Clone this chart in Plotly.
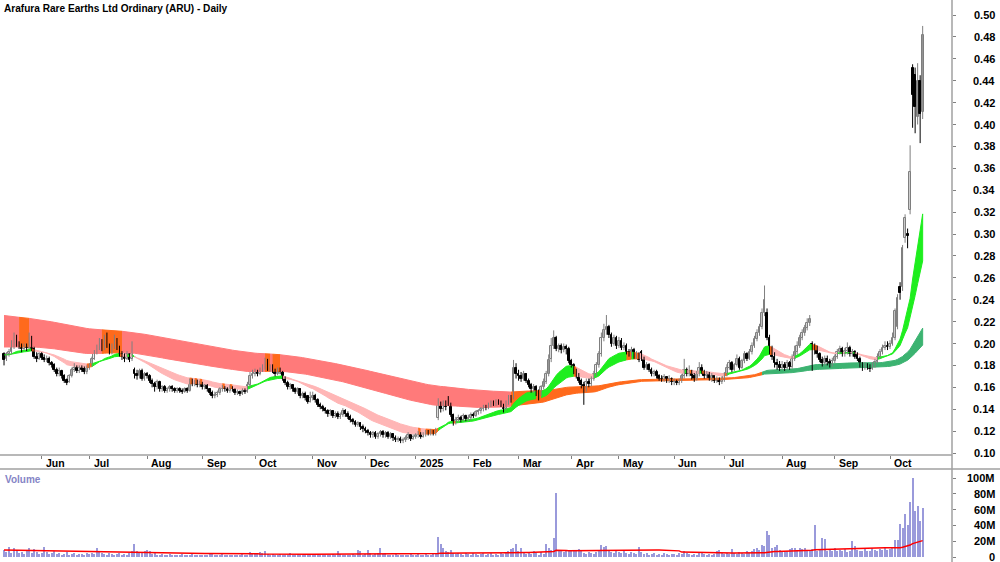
import numpy as np
import pandas as pd
import plotly.graph_objects as go

TITLE = "Arafura Rare Earths Ltd Ordinary (ARU) - Daily"
START, END = "2024-05-13", "2025-10-20"
HOLIDAYS = ["2024-06-10", "2024-12-25", "2024-12-26", "2025-01-01", "2025-01-27",
            "2025-04-18", "2025-04-21", "2025-04-25", "2025-06-09"]

# ---------------- daily OHLC, one line per month ----------------
opens = [
    0.190, 0.186, 0.190, 0.192, 0.197, 0.205, 0.200, 0.197, 0.195, 0.198, 0.196, 0.205, 0.195, 0.188, 0.186,
    0.190, 0.187, 0.185, 0.186, 0.182, 0.180, 0.176, 0.172, 0.175, 0.170, 0.167, 0.165, 0.170, 0.176, 0.178, 0.175, 0.178, 0.177, 0.174,
    0.178, 0.180, 0.186, 0.192, 0.196, 0.200, 0.195, 0.202, 0.198, 0.192, 0.197, 0.203, 0.196, 0.190, 0.188, 0.186, 0.190, 0.186, 0.176, 0.172, 0.170, 0.175, 0.168,
    0.172, 0.170, 0.166, 0.163, 0.160, 0.165, 0.158, 0.160, 0.157, 0.158, 0.160, 0.158, 0.157, 0.158, 0.157, 0.156, 0.158, 0.157, 0.165, 0.163, 0.165, 0.162,
    0.164, 0.160, 0.162, 0.158, 0.155, 0.152, 0.153, 0.155, 0.158, 0.160, 0.158, 0.157, 0.160, 0.158, 0.155, 0.156, 0.154, 0.157, 0.156, 0.162, 0.170,
    0.172, 0.174, 0.172, 0.176, 0.178, 0.185, 0.176, 0.179, 0.175, 0.172, 0.176, 0.174, 0.168, 0.164, 0.160, 0.162, 0.158, 0.156, 0.158, 0.152, 0.154, 0.152, 0.147,
    0.150, 0.152, 0.148, 0.144, 0.142, 0.140, 0.138, 0.136, 0.138, 0.134, 0.136, 0.133, 0.135, 0.138, 0.136, 0.133, 0.130, 0.128, 0.126, 0.127, 0.124,
    0.122, 0.120, 0.118, 0.116, 0.118, 0.115, 0.117, 0.119, 0.116, 0.118, 0.115, 0.117, 0.114, 0.112, 0.113, 0.111, 0.112, 0.114, 0.116, 0.113,
    0.115, 0.116, 0.118, 0.115, 0.117, 0.119, 0.118, 0.120, 0.118, 0.132, 0.144, 0.140, 0.145, 0.150, 0.145, 0.135, 0.128, 0.130, 0.132, 0.130, 0.134,
    0.131, 0.132, 0.135, 0.134, 0.137, 0.138, 0.140, 0.142, 0.141, 0.144, 0.146, 0.145, 0.147, 0.146, 0.143, 0.140, 0.146, 0.150, 0.150, 0.178,
    0.172, 0.170, 0.168, 0.172, 0.166, 0.162, 0.158, 0.160, 0.156, 0.154, 0.160, 0.165, 0.172, 0.186, 0.198, 0.205, 0.195, 0.198, 0.194, 0.197, 0.195,
    0.184, 0.180, 0.174, 0.170, 0.166, 0.162, 0.158, 0.165, 0.163, 0.168, 0.172, 0.180, 0.190, 0.205, 0.212, 0.215, 0.208, 0.200, 0.205,
    0.198, 0.202, 0.196, 0.198, 0.192, 0.190, 0.194, 0.188, 0.190, 0.192, 0.186, 0.178, 0.180, 0.176, 0.172, 0.174, 0.170, 0.168, 0.167, 0.169, 0.166, 0.168,
    0.165, 0.165, 0.164, 0.166, 0.170, 0.176, 0.172, 0.175, 0.170, 0.168, 0.172, 0.178, 0.174, 0.170, 0.172, 0.168, 0.170, 0.166, 0.168, 0.165,
    0.167, 0.172, 0.178, 0.182, 0.176, 0.180, 0.186, 0.178, 0.184, 0.190, 0.186, 0.192, 0.198, 0.204, 0.210, 0.215, 0.228, 0.228, 0.205, 0.195, 0.188, 0.182, 0.180,
    0.178, 0.180, 0.178, 0.182, 0.179, 0.186, 0.192, 0.198, 0.205, 0.210, 0.214, 0.219, 0.200, 0.197, 0.196, 0.190, 0.185, 0.182, 0.186, 0.183, 0.181,
    0.184, 0.188, 0.192, 0.195, 0.190, 0.193, 0.196, 0.190, 0.192, 0.190, 0.186, 0.180, 0.178, 0.180, 0.179, 0.177, 0.180, 0.183, 0.188, 0.192, 0.196, 0.198,
    0.197, 0.200, 0.205, 0.215, 0.252, 0.252, 0.296, 0.300, 0.322, 0.452, 0.445, 0.407, 0.440, 0.411,
]
highs = [
    0.192, 0.192, 0.195, 0.203, 0.210, 0.208, 0.202, 0.200, 0.200, 0.200, 0.210, 0.207, 0.197, 0.192, 0.192,
    0.192, 0.190, 0.189, 0.188, 0.184, 0.182, 0.178, 0.178, 0.176, 0.172, 0.168, 0.172, 0.178, 0.182, 0.180, 0.180, 0.180, 0.179, 0.180,
    0.182, 0.188, 0.194, 0.199, 0.205, 0.204, 0.208, 0.210, 0.200, 0.200, 0.208, 0.205, 0.198, 0.193, 0.191, 0.193, 0.191, 0.202, 0.178, 0.176, 0.177, 0.177, 0.174,
    0.174, 0.172, 0.168, 0.165, 0.167, 0.166, 0.162, 0.162, 0.160, 0.162, 0.162, 0.160, 0.160, 0.160, 0.159, 0.160, 0.160, 0.168, 0.168, 0.167, 0.167, 0.166,
    0.165, 0.163, 0.163, 0.159, 0.157, 0.156, 0.157, 0.160, 0.162, 0.161, 0.160, 0.162, 0.161, 0.159, 0.158, 0.157, 0.159, 0.159, 0.165, 0.174, 0.176,
    0.177, 0.176, 0.178, 0.181, 0.187, 0.186, 0.181, 0.181, 0.177, 0.178, 0.178, 0.175, 0.170, 0.166, 0.164, 0.163, 0.160, 0.160, 0.159, 0.156, 0.156, 0.153, 0.156,
    0.156, 0.154, 0.150, 0.146, 0.144, 0.142, 0.140, 0.140, 0.139, 0.138, 0.138, 0.137, 0.141, 0.140, 0.138, 0.135, 0.132, 0.130, 0.129, 0.128, 0.126,
    0.124, 0.122, 0.120, 0.120, 0.120, 0.119, 0.121, 0.121, 0.120, 0.120, 0.119, 0.118, 0.116, 0.115, 0.115, 0.114, 0.116, 0.119, 0.117, 0.117,
    0.118, 0.120, 0.119, 0.119, 0.121, 0.121, 0.122, 0.121, 0.123, 0.150, 0.147, 0.148, 0.148, 0.152, 0.146, 0.136, 0.133, 0.135, 0.134, 0.136, 0.135,
    0.135, 0.137, 0.137, 0.139, 0.140, 0.142, 0.144, 0.144, 0.146, 0.148, 0.148, 0.149, 0.149, 0.148, 0.145, 0.148, 0.153, 0.153, 0.185, 0.182,
    0.176, 0.174, 0.175, 0.173, 0.168, 0.164, 0.163, 0.162, 0.158, 0.162, 0.168, 0.175, 0.190, 0.205, 0.212, 0.207, 0.200, 0.200, 0.200, 0.199, 0.197,
    0.186, 0.182, 0.177, 0.173, 0.168, 0.165, 0.168, 0.168, 0.170, 0.175, 0.183, 0.193, 0.210, 0.218, 0.226, 0.217, 0.210, 0.208, 0.207,
    0.206, 0.205, 0.201, 0.200, 0.195, 0.197, 0.196, 0.193, 0.192, 0.194, 0.188, 0.183, 0.182, 0.178, 0.176, 0.176, 0.172, 0.171, 0.172, 0.170, 0.171, 0.169,
    0.168, 0.167, 0.168, 0.172, 0.186, 0.178, 0.180, 0.176, 0.173, 0.175, 0.183, 0.181, 0.176, 0.175, 0.174, 0.173, 0.171, 0.170, 0.169, 0.170,
    0.174, 0.181, 0.185, 0.184, 0.182, 0.190, 0.188, 0.186, 0.193, 0.192, 0.195, 0.201, 0.207, 0.213, 0.218, 0.232, 0.253, 0.232, 0.208, 0.198, 0.192, 0.186, 0.184,
    0.184, 0.183, 0.185, 0.184, 0.190, 0.198, 0.202, 0.208, 0.213, 0.217, 0.223, 0.226, 0.202, 0.200, 0.198, 0.192, 0.188, 0.189, 0.189, 0.186, 0.187,
    0.190, 0.195, 0.198, 0.197, 0.196, 0.201, 0.198, 0.195, 0.194, 0.192, 0.188, 0.183, 0.183, 0.182, 0.181, 0.183, 0.186, 0.191, 0.195, 0.199, 0.202, 0.202,
    0.203, 0.210, 0.232, 0.245, 0.256, 0.290, 0.318, 0.305, 0.381, 0.455, 0.452, 0.456, 0.445, 0.490,
]
lows = [
    0.180, 0.184, 0.188, 0.190, 0.195, 0.197, 0.195, 0.192, 0.194, 0.193, 0.195, 0.193, 0.186, 0.183, 0.185,
    0.185, 0.183, 0.183, 0.180, 0.178, 0.174, 0.170, 0.170, 0.168, 0.164, 0.162, 0.164, 0.169, 0.174, 0.173, 0.173, 0.174, 0.172, 0.172,
    0.176, 0.179, 0.185, 0.190, 0.194, 0.193, 0.194, 0.196, 0.190, 0.190, 0.195, 0.194, 0.188, 0.185, 0.183, 0.185, 0.183, 0.184, 0.168, 0.167, 0.168, 0.166, 0.166,
    0.168, 0.164, 0.160, 0.156, 0.158, 0.156, 0.156, 0.155, 0.155, 0.156, 0.156, 0.155, 0.155, 0.155, 0.154, 0.155, 0.155, 0.156, 0.161, 0.161, 0.160, 0.160,
    0.158, 0.158, 0.156, 0.153, 0.150, 0.150, 0.151, 0.153, 0.156, 0.156, 0.155, 0.155, 0.156, 0.153, 0.153, 0.152, 0.153, 0.154, 0.155, 0.160, 0.168,
    0.170, 0.170, 0.171, 0.174, 0.176, 0.175, 0.174, 0.173, 0.170, 0.171, 0.172, 0.166, 0.162, 0.158, 0.158, 0.156, 0.154, 0.154, 0.150, 0.150, 0.148, 0.145, 0.146,
    0.148, 0.146, 0.142, 0.140, 0.138, 0.136, 0.133, 0.134, 0.132, 0.132, 0.131, 0.131, 0.133, 0.133, 0.131, 0.128, 0.126, 0.124, 0.124, 0.121, 0.119,
    0.118, 0.116, 0.114, 0.114, 0.113, 0.113, 0.115, 0.114, 0.114, 0.113, 0.113, 0.111, 0.110, 0.110, 0.109, 0.109, 0.110, 0.112, 0.111, 0.112,
    0.113, 0.114, 0.113, 0.114, 0.115, 0.116, 0.116, 0.116, 0.116, 0.130, 0.137, 0.138, 0.139, 0.143, 0.133, 0.125, 0.126, 0.128, 0.128, 0.129, 0.129,
    0.129, 0.130, 0.132, 0.133, 0.135, 0.136, 0.138, 0.139, 0.140, 0.142, 0.143, 0.143, 0.144, 0.142, 0.137, 0.139, 0.144, 0.146, 0.149, 0.168,
    0.166, 0.165, 0.166, 0.164, 0.160, 0.155, 0.155, 0.152, 0.148, 0.152, 0.158, 0.163, 0.170, 0.183, 0.195, 0.193, 0.192, 0.191, 0.192, 0.190, 0.182,
    0.178, 0.172, 0.168, 0.164, 0.159, 0.144, 0.156, 0.160, 0.161, 0.166, 0.170, 0.178, 0.188, 0.202, 0.208, 0.205, 0.197, 0.198, 0.195,
    0.196, 0.194, 0.194, 0.190, 0.188, 0.188, 0.186, 0.186, 0.183, 0.184, 0.176, 0.176, 0.174, 0.170, 0.170, 0.168, 0.166, 0.165, 0.165, 0.164, 0.164, 0.162,
    0.162, 0.162, 0.162, 0.164, 0.168, 0.170, 0.170, 0.167, 0.165, 0.166, 0.170, 0.172, 0.168, 0.168, 0.166, 0.165, 0.164, 0.164, 0.162, 0.163,
    0.165, 0.170, 0.176, 0.174, 0.175, 0.179, 0.176, 0.177, 0.182, 0.184, 0.185, 0.190, 0.196, 0.202, 0.207, 0.213, 0.225, 0.203, 0.190, 0.185, 0.178, 0.176, 0.175,
    0.176, 0.175, 0.176, 0.176, 0.177, 0.184, 0.190, 0.196, 0.203, 0.207, 0.212, 0.216, 0.175, 0.190, 0.187, 0.183, 0.179, 0.180, 0.180, 0.178, 0.179,
    0.182, 0.186, 0.190, 0.188, 0.188, 0.190, 0.188, 0.188, 0.186, 0.184, 0.178, 0.175, 0.176, 0.176, 0.174, 0.176, 0.178, 0.182, 0.186, 0.190, 0.194, 0.194,
    0.195, 0.198, 0.203, 0.213, 0.240, 0.248, 0.292, 0.287, 0.318, 0.397, 0.392, 0.400, 0.383, 0.405,
]
closes = [
    0.185, 0.190, 0.192, 0.198, 0.205, 0.200, 0.197, 0.195, 0.198, 0.196, 0.205, 0.195, 0.188, 0.186, 0.190,
    0.187, 0.185, 0.186, 0.182, 0.180, 0.176, 0.172, 0.175, 0.170, 0.166, 0.164, 0.170, 0.176, 0.178, 0.175, 0.178, 0.176, 0.174, 0.178,
    0.180, 0.186, 0.192, 0.196, 0.200, 0.195, 0.202, 0.198, 0.192, 0.197, 0.203, 0.196, 0.190, 0.188, 0.186, 0.190, 0.185, 0.198, 0.172, 0.170, 0.175, 0.168, 0.172,
    0.170, 0.166, 0.163, 0.160, 0.165, 0.158, 0.160, 0.157, 0.158, 0.160, 0.158, 0.157, 0.158, 0.157, 0.156, 0.158, 0.157, 0.165, 0.163, 0.165, 0.162, 0.164,
    0.160, 0.162, 0.158, 0.155, 0.152, 0.153, 0.155, 0.158, 0.160, 0.158, 0.157, 0.160, 0.158, 0.155, 0.156, 0.154, 0.157, 0.156, 0.162, 0.170, 0.172,
    0.174, 0.172, 0.176, 0.178, 0.183, 0.176, 0.179, 0.175, 0.172, 0.176, 0.174, 0.168, 0.164, 0.160, 0.162, 0.158, 0.156, 0.158, 0.152, 0.154, 0.150, 0.147, 0.150,
    0.152, 0.148, 0.144, 0.142, 0.140, 0.138, 0.136, 0.138, 0.134, 0.136, 0.133, 0.135, 0.138, 0.136, 0.133, 0.130, 0.128, 0.126, 0.127, 0.124, 0.122,
    0.120, 0.118, 0.116, 0.118, 0.115, 0.117, 0.119, 0.116, 0.118, 0.115, 0.117, 0.114, 0.112, 0.113, 0.111, 0.112, 0.114, 0.116, 0.113, 0.115,
    0.116, 0.118, 0.115, 0.117, 0.119, 0.118, 0.120, 0.118, 0.121, 0.144, 0.140, 0.145, 0.142, 0.146, 0.135, 0.128, 0.130, 0.132, 0.130, 0.134, 0.131,
    0.132, 0.135, 0.134, 0.137, 0.138, 0.140, 0.142, 0.141, 0.144, 0.146, 0.145, 0.147, 0.146, 0.143, 0.140, 0.146, 0.150, 0.148, 0.178, 0.172,
    0.170, 0.168, 0.172, 0.166, 0.162, 0.158, 0.160, 0.156, 0.154, 0.160, 0.165, 0.172, 0.185, 0.198, 0.205, 0.195, 0.198, 0.194, 0.197, 0.195, 0.184,
    0.180, 0.174, 0.170, 0.166, 0.162, 0.160, 0.165, 0.163, 0.168, 0.172, 0.180, 0.190, 0.205, 0.212, 0.215, 0.208, 0.200, 0.205, 0.198,
    0.202, 0.196, 0.198, 0.192, 0.190, 0.194, 0.188, 0.190, 0.185, 0.186, 0.178, 0.180, 0.176, 0.172, 0.174, 0.170, 0.168, 0.167, 0.169, 0.166, 0.168, 0.165,
    0.165, 0.164, 0.166, 0.170, 0.176, 0.172, 0.175, 0.170, 0.168, 0.172, 0.178, 0.174, 0.170, 0.172, 0.168, 0.170, 0.166, 0.168, 0.165, 0.167,
    0.172, 0.178, 0.182, 0.176, 0.180, 0.186, 0.178, 0.184, 0.190, 0.186, 0.192, 0.198, 0.204, 0.210, 0.215, 0.228, 0.240, 0.205, 0.195, 0.188, 0.182, 0.180, 0.178,
    0.180, 0.178, 0.182, 0.179, 0.186, 0.192, 0.198, 0.205, 0.210, 0.214, 0.219, 0.222, 0.197, 0.196, 0.190, 0.185, 0.182, 0.186, 0.183, 0.181, 0.184,
    0.188, 0.192, 0.195, 0.190, 0.193, 0.196, 0.190, 0.192, 0.188, 0.186, 0.180, 0.178, 0.180, 0.179, 0.177, 0.180, 0.183, 0.188, 0.192, 0.196, 0.198, 0.197,
    0.200, 0.205, 0.230, 0.242, 0.246, 0.287, 0.315, 0.298, 0.357, 0.427, 0.416, 0.440, 0.410, 0.482,
]
# daily volume in millions of shares
volume_m = [
    9, 6, 13, 5, 12, 7, 5, 6, 4, 7, 11, 5, 10, 6, 4,
    5, 13, 6, 4, 5, 7, 4, 5, 3, 4, 6, 3, 4, 5, 3, 4, 4, 3, 5,
    4, 5, 4, 11, 6, 5, 4, 3, 5, 4, 3, 4, 5, 3, 4, 3, 5, 7, 17, 8, 6, 5, 7,
    9, 8, 4, 5, 3, 3, 4, 2, 3, 4, 3, 2, 3, 3, 4, 2, 3, 3, 4, 3, 2, 3,
    3, 2, 3, 4, 5, 3, 2, 3, 4, 3, 2, 3, 2, 3, 3, 2, 4, 3, 3, 6, 4,
    5, 4, 6, 5, 7, 4, 3, 4, 3, 3, 4, 3, 2, 3, 5, 3, 2, 4, 3, 3, 4, 3, 4,
    4, 3, 4, 3, 3, 2, 3, 3, 4, 3, 8, 4, 3, 3, 2, 3, 4, 3, 9, 8, 3,
    4, 9, 5, 3, 4, 5, 11, 4, 5, 3, 2, 3, 4, 3, 2, 3, 2, 3, 4, 3,
    3, 4, 3, 2, 4, 3, 3, 4, 5, 25, 17, 11, 8, 6, 9, 5, 4, 5, 4, 3, 5,
    4, 3, 5, 4, 3, 4, 5, 3, 4, 5, 3, 4, 3, 5, 4, 6, 7, 10, 11, 16,
    7, 12, 5, 4, 6, 4, 8, 5, 3, 6, 4, 16, 12, 9, 24, 81, 9, 8, 6, 7, 8,
    9, 8, 9, 10, 7, 5, 4, 6, 5, 4, 6, 8, 15, 13, 14, 8, 6, 5, 7,
    6, 5, 7, 5, 4, 6, 5, 4, 13, 6, 4, 5, 3, 4, 5, 3, 4, 3, 5, 4, 3, 4,
    4, 3, 5, 4, 8, 5, 4, 3, 4, 3, 6, 5, 4, 3, 4, 3, 4, 8, 9, 5,
    4, 5, 4, 10, 5, 4, 6, 5, 4, 7, 5, 8, 10, 12, 9, 15, 14, 33, 28, 12, 13, 15, 9,
    8, 6, 7, 10, 12, 11, 9, 12, 10, 11, 8, 9, 10, 40, 8, 9, 24, 23, 8, 9, 7,
    12, 8, 9, 7, 10, 6, 8, 20, 14, 9, 8, 7, 10, 8, 7, 12, 9, 8, 10, 9, 11, 9,
    10, 12, 22, 21, 42, 37, 54, 41, 70, 100, 58, 64, 45, 62,
]

month_tick_labels = ["Jun", "Jul", "Aug", "Sep", "Oct", "Nov", "Dec", "2025", "Feb",
                     "Mar", "Apr", "May", "Jun", "Jul", "Aug", "Sep", "Oct"]
price_ticks = [0.10, 0.12, 0.14, 0.16, 0.18, 0.20, 0.22, 0.24, 0.26, 0.28, 0.30,
               0.32, 0.34, 0.36, 0.38, 0.40, 0.42, 0.44, 0.46, 0.48, 0.50]
volume_ticks_m = [0, 20, 40, 60, 80, 100]
volume_tick_text = ["0", "20M", "40M", "60M", "80M", "100M"]

# indicator settings (moving-average ribbons, seeded with the levels read at the chart's left edge)
SHORT_PERIODS, SHORT_SEEDS = [20, 27, 35], [0.190, 0.190, 0.190]
LONG_PERIODS, LONG_SEEDS = [120, 160, 200], [0.197, 0.212, 0.226]
VOL_MA_PERIOD, VOL_MA_SEED = 50, 9.0

# trend state of the long ribbon as coloured on the chart (state starts on the given date)
LONG_RIBBON_STATES = [("2024-05-13", "dn"), ("2024-05-21", "mix"), ("2024-05-27", "dn"),
                      ("2024-07-08", "mix"), ("2024-07-18", "dn"), ("2024-10-07", "mix"),
                      ("2024-10-09", "dn"), ("2024-10-10", "mix"), ("2024-10-15", "dn"),
                      ("2025-02-26", "mix"), ("2025-07-22", "up")]

LONG_COLORS = {"dn": "#FF7A7A", "mix": "#FF6A1C", "up": "#3CB371"}
SHORT_COLORS = {"dn": "#FFB6B6", "mix": "#FF6A1C", "up": "#1EEE1E"}

# ---------------- derived ----------------
dates = pd.bdate_range(START, END, freq="C", holidays=HOLIDAYS)
n = len(closes)
for arr in (opens, highs, lows, volume_m):
    assert len(arr) == n, (len(arr), n)
assert len(dates) == n, (len(dates), n)
idx = np.arange(n)
O, Hh, L, C = (np.array(a, dtype=float) for a in (opens, highs, lows, closes))

months = pd.Series(dates).dt.to_period("M")
first_of_month = [i for i in range(1, n) if months[i] != months[i - 1]]
month_ticks = first_of_month[:len(month_tick_labels)]


def ema(values, period, seed):
    a = 2.0 / (period + 1)
    out, e = [], seed
    for p in values:
        e = e + a * (p - e)
        out.append(e)
    return np.array(out)


def slope_states(E):
    d = np.diff(E, axis=1)
    st = np.where((d > 0).all(0), "up", np.where((d < 0).all(0), "dn", "mix"))
    return np.concatenate([[st[0]], st])


def dated_states(spec):
    st = np.empty(n, dtype=object)
    bounds = [dates.searchsorted(pd.Timestamp(d)) for d, _ in spec] + [n]
    for (d, s), a, b in zip(spec, bounds[:-1], bounds[1:]):
        st[a:b] = s
    return st


def ribbon(E, state, colors):
    hi, lo = E.max(0), E.min(0)
    traces, a = [], 0
    for i in range(1, n + 1):
        if i == n or state[i] != state[a]:
            b = min(i, n - 1)
            xs = list(range(a, b + 1))
            col = colors[state[a]]
            traces.append(go.Scatter(
                x=xs + xs[::-1], y=list(hi[a:b + 1]) + list(lo[a:b + 1][::-1]),
                fill="toself", fillcolor=col, mode="lines",
                line=dict(width=1, color=col), hoverinfo="skip", showlegend=False,
                xaxis="x", yaxis="y"))
            a = i
    return traces


E_long = np.array([ema(C, p, s) for p, s in zip(LONG_PERIODS, LONG_SEEDS)])
E_short = np.array([ema(C, p, s) for p, s in zip(SHORT_PERIODS, SHORT_SEEDS)])

vol = np.array(volume_m, dtype=float)
vol_ma = []
for i in range(n):
    k = min(i + 1, VOL_MA_PERIOD)
    window = vol[i + 1 - k:i + 1]
    vol_ma.append((window.sum() + VOL_MA_SEED * (VOL_MA_PERIOD - k)) / VOL_MA_PERIOD)
vol_ma = np.array(vol_ma)

# ---------------- figure ----------------
W, H = 1000, 562
PLOT_W = 952
MAIN_BOTTOM = 455
VOL_TOP = 469


def px_x(p):
    return p / PLOT_W


def px_y(p):
    return 1 - p / H


fig = go.Figure()
for t in ribbon(E_long, dated_states(LONG_RIBBON_STATES), LONG_COLORS):
    fig.add_trace(t)
for t in ribbon(E_short, slope_states(E_short), SHORT_COLORS):
    fig.add_trace(t)

# candles: wicks + bodies
up = C >= O
for mask, wick_col, fill_col, edge_col in ((up, "#7F7F7F", "#FFFFFF", "#7F7F7F"),
                                           (~up, "#000000", "#000000", "#000000")):
    ii = idx[mask]
    wx, wy = [], []
    for i in ii:
        wx += [i, i, None]
        wy += [L[i], Hh[i], None]
    fig.add_trace(go.Scatter(x=wx, y=wy, mode="lines", line=dict(color=wick_col, width=1),
                             hoverinfo="skip", showlegend=False, xaxis="x", yaxis="y"))
    body_lo = np.minimum(O[mask], C[mask])
    body_h = np.maximum(np.abs(C[mask] - O[mask]), 0.0007)
    fig.add_trace(go.Bar(x=ii, y=body_h, base=body_lo, width=0.72,
                         marker=dict(color=fill_col, line=dict(color=edge_col, width=1)),
                         hoverinfo="skip", showlegend=False, xaxis="x", yaxis="y"))

fig.add_trace(go.Bar(x=idx, y=vol * 1e6, marker=dict(color="#9A9ADB", line=dict(width=0)),
                     width=0.45, showlegend=False, xaxis="x2", yaxis="y2"))
fig.add_trace(go.Scatter(x=idx, y=vol_ma * 1e6, mode="lines", line=dict(color="#FF0000", width=1.5),
                         showlegend=False, xaxis="x2", yaxis="y2"))

x_range = [-1.6, (PLOT_W - 4) / 2.51]
y_range = [0.5137 - MAIN_BOTTOM / 1095.0, 0.5137]
v_range = [-(H - 557) / 0.79 * 1e6, (557 - VOL_TOP) / 0.79 * 1e6]

GRAY = "#A0A0A0"
fig.update_layout(
    width=W, height=H, margin=dict(l=0, r=W - PLOT_W, t=0, b=0),
    paper_bgcolor="white", plot_bgcolor="white", showlegend=False,
    barmode="overlay", bargap=0,
    font=dict(family="Liberation Sans, Arial, sans-serif", color="black"),
    xaxis=dict(domain=[0, 1], range=x_range, anchor="y", tickvals=month_ticks, ticks="outside",
               ticklen=3, tickcolor="#808080", showticklabels=False, showgrid=False,
               zeroline=False, showline=False),
    yaxis=dict(domain=[px_y(MAIN_BOTTOM), 1], range=y_range, side="right", anchor="x",
               tickvals=price_ticks, ticks="outside", ticklen=3, tickcolor="#808080",
               showticklabels=False, showgrid=False, zeroline=False, showline=False),
    xaxis2=dict(domain=[0, 1], range=x_range, anchor="y2", matches="x", showticklabels=False,
                ticks="", showgrid=False, zeroline=False, showline=False),
    yaxis2=dict(domain=[0, px_y(VOL_TOP)], range=v_range, side="right", anchor="x2",
                tickvals=[v * 1e6 for v in volume_ticks_m], ticks="outside", ticklen=3,
                tickcolor="#808080", showticklabels=False, showgrid=False, zeroline=False,
                showline=False),
)

shapes = [
    dict(type="line", xref="paper", yref="paper", x0=0, x1=1, y0=px_y(MAIN_BOTTOM), y1=px_y(MAIN_BOTTOM),
         line=dict(color=GRAY, width=1.5)),
    dict(type="line", xref="paper", yref="paper", x0=0, x1=px_x(W), y0=px_y(VOL_TOP), y1=px_y(VOL_TOP),
         line=dict(color=GRAY, width=1.5)),
    dict(type="line", xref="paper", yref="paper", x0=1, x1=1, y0=0, y1=1,
         line=dict(color=GRAY, width=1.5)),
]
fig.update_layout(shapes=shapes)

ann = []
ann.append(dict(text="<b>" + TITLE + "</b>", xref="paper", yref="paper", x=px_x(2), y=px_y(1),
                xanchor="left", yanchor="top", showarrow=False, font=dict(size=10.1, color="black")))
ann.append(dict(text="<b>Volume</b>", xref="paper", yref="paper", x=px_x(3), y=px_y(472),
                xanchor="left", yanchor="top", showarrow=False, font=dict(size=10, color="#8585C6")))
for t, lab in zip(month_ticks, month_tick_labels):
    ann.append(dict(text="<b>" + lab + "</b>", xref="x", yref="paper", x=t + 0.9, y=px_y(463),
                    xanchor="left", yanchor="middle", showarrow=False, font=dict(size=10.5)))
for v in price_ticks:
    ann.append(dict(text="<b>%.2f</b>" % v, xref="paper", yref="y", x=px_x(997), y=v,
                    xanchor="right", yanchor="middle", showarrow=False, font=dict(size=11)))
for v, lab in zip(volume_ticks_m, volume_tick_text):
    ann.append(dict(text="<b>" + lab + "</b>", xref="paper", yref="y2", x=px_x(997), y=v * 1e6,
                    xanchor="right", yanchor="middle", showarrow=False, font=dict(size=11)))
fig.update_layout(annotations=ann)

fig.write_html("out.html")
